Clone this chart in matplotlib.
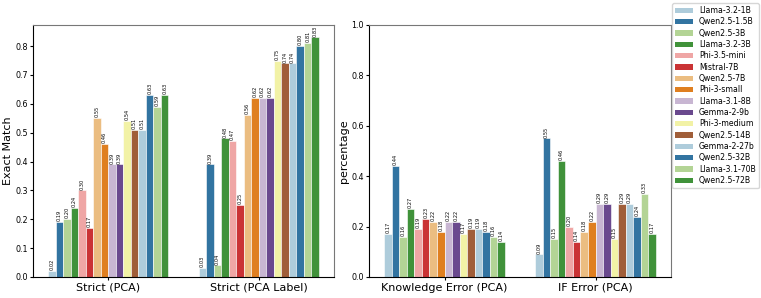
import colorsys
import numpy as np
import matplotlib
matplotlib.use("Agg")
import matplotlib.pyplot as plt
from matplotlib.patches import Patch

models = ["Llama-3.2-1B", "Qwen2.5-1.5B", "Qwen2.5-3B", "Llama-3.2-3B", "Phi-3.5-mini",
          "Mistral-7B", "Qwen2.5-7B", "Phi-3-small", "Llama-3.1-8B", "Gemma-2-9b",
          "Phi-3-medium", "Qwen2.5-14B", "Gemma-2-27b", "Qwen2.5-32B", "Llama-3.1-70B",
          "Qwen2.5-72B"]

left_cats = ["Strict (PCA)", "Strict (PCA Label)"]
right_cats = ["Knowledge Error (PCA)", "IF Error (PCA)"]

strict_pca = [0.02, 0.19, 0.20, 0.24, 0.30, 0.17, 0.55, 0.46, 0.39, 0.39, 0.54, 0.51, 0.51, 0.63, 0.59, 0.63]
strict_label = [0.03, 0.39, 0.04, 0.48, 0.47, 0.25, 0.56, 0.62, 0.62, 0.62, 0.75, 0.74, 0.74, 0.80, 0.81, 0.83]
knowledge_err = [0.17, 0.44, 0.16, 0.27, 0.19, 0.23, 0.22, 0.18, 0.22, 0.22, 0.17, 0.19, 0.19, 0.18, 0.16, 0.14]
if_err = [0.09, 0.55, 0.15, 0.46, 0.20, 0.14, 0.18, 0.22, 0.29, 0.29, 0.15, 0.29, 0.29, 0.24, 0.33, 0.17]

paired = plt.get_cmap("Paired").colors


def desat(c, prop=0.75):
    h, l, s = colorsys.rgb_to_hls(*c[:3])
    return colorsys.hls_to_rgb(h, l, s * prop)


colors = [desat(paired[i % 12]) for i in range(len(models))]

fig = plt.figure(figsize=(7.61, 2.98), dpi=100)
ax1 = fig.add_axes([33 / 761, 21 / 298, 301 / 761, 252 / 298])
ax2 = fig.add_axes([369 / 761, 21 / 298, 302 / 761, 252 / 298])

n = len(models)
w = 0.8 / n


def draw(ax, cats, series_list):
    x = np.arange(len(cats))
    for i, m in enumerate(models):
        vals = [s[i] for s in series_list]
        pos = x - 0.4 + w * (i + 0.5)
        bars = ax.bar(pos, vals, width=w, color=colors[i], edgecolor="white", linewidth=0.4, label=m)
        for b, v in zip(bars, vals):
            ax.text(b.get_x() + b.get_width() / 2, v + 0.003, f"{v:.2f}", rotation=90,
                    ha="center", va="bottom", fontsize=3.6)
    ax.set_xticks(x)
    ax.set_xticklabels(cats, fontsize=8)
    ax.set_xlim(-0.5, len(cats) - 0.5)
    ax.tick_params(axis="y", labelsize=5.8, length=2, pad=1.5)
    ax.tick_params(axis="x", length=2, pad=2)
    for sp in ["top", "right"]:
        ax.spines[sp].set_color("#777777")


draw(ax1, left_cats, [strict_pca, strict_label])
draw(ax2, right_cats, [knowledge_err, if_err])

ax1.set_ylim(0, 0.873)
ax1.set_yticks(np.arange(0, 0.81, 0.1))
ax1.set_ylabel("Exact Match", fontsize=8, labelpad=1.5)
ax2.set_ylim(0, 1.0)
ax2.set_yticks(np.arange(0, 1.01, 0.2))
ax2.set_ylabel("percentage", fontsize=8, labelpad=1.5)

handles = [Patch(facecolor=colors[i], label=models[i]) for i in range(n)]
fig.legend(handles=handles, loc="upper right", bbox_to_anchor=(0.999, 0.995), fontsize=5.6,
           frameon=True, handlelength=2.2, handleheight=0.7, labelspacing=0.3,
           borderpad=0.4, handletextpad=0.8, borderaxespad=0.2, fancybox=True)

fig.savefig("out.png", dpi=100)
